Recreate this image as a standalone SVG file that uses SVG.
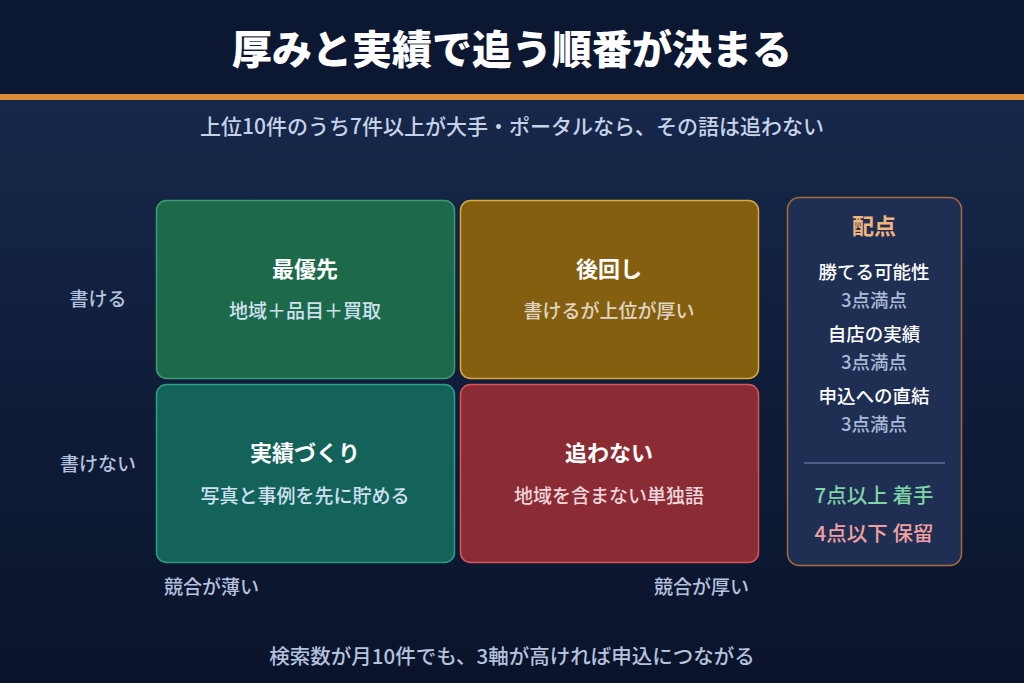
<svg xmlns="http://www.w3.org/2000/svg" width="1024" height="683" viewBox="0 0 1024 683">
<defs>
<linearGradient id="bg" x1="0" y1="0" x2="0" y2="1">
<stop offset="0" stop-color="#182b50"/>
<stop offset="1" stop-color="#0a1329"/>
</linearGradient>
</defs>
<style>
text{font-family:"Noto Sans CJK JP","Noto Sans",sans-serif;text-anchor:middle}
.ttl{font-size:40px;font-weight:900;fill:#ffffff}
.sub{font-size:21px;font-weight:500;fill:#c6d2e8}
.ax{font-size:19px;font-weight:500;fill:#b4c2de}
.ch{font-size:22px;font-weight:700;fill:#ffffff}
.cs{font-size:19px;font-weight:500;fill:#cfe0f0}
.ph{font-size:22px;font-weight:700;fill:#f2b57c}
.pl{font-size:18.5px;font-weight:500;fill:#ffffff}
.pv{font-size:18.5px;font-weight:500;fill:#a9b9d8}
.foot{font-size:20.5px;font-weight:500;fill:#b4c2de}
</style>
<rect x="0" y="0" width="1024" height="683" fill="url(#bg)"/>
<rect x="0" y="0" width="1024" height="94" fill="#0c1731"/>
<rect x="0" y="94" width="1024" height="6" fill="#e08b3c"/>
<text class="ttl" x="512" y="64">厚みと実績で追う順番が決まる</text>
<text class="sub" x="512" y="134">上位10件のうち7件以上が大手・ポータルなら、その語は追わない</text>

<text class="ax" x="98" y="306">書ける</text>
<text class="ax" x="98" y="471">書けない</text>

<g id="card-top-left">
<rect x="156.5" y="200.5" width="298" height="178" rx="10" fill="#1d6a4b" stroke="#3d9b72" stroke-width="1.5"/>
<text class="ch" x="305" y="277">最優先</text>
<text class="cs" x="305" y="318">地域＋品目＋買取</text>
</g>
<g id="card-top-right">
<rect x="460.5" y="200.5" width="298" height="178" rx="10" fill="#845f0f" stroke="#d8aa40" stroke-width="1.5"/>
<text class="ch" x="609" y="277">後回し</text>
<text class="cs" x="609" y="318" style="fill:#e0d6c6">書けるが上位が厚い</text>
</g>
<g id="card-bottom-left">
<rect x="156.5" y="384.5" width="298" height="178" rx="10" fill="#14635a" stroke="#2e9d88" stroke-width="1.5"/>
<text class="ch" x="305" y="461">実績づくり</text>
<text class="cs" x="305" y="503">写真と事例を先に貯める</text>
</g>
<g id="card-bottom-right">
<rect x="460.5" y="384.5" width="298" height="178" rx="10" fill="#8b2b34" stroke="#d5575d" stroke-width="1.5"/>
<text class="ch" x="609" y="461">追わない</text>
<text class="cs" x="609" y="503" style="fill:#ecd6dc">地域を含まない単独語</text>
</g>

<text class="ax" x="164" y="594" style="text-anchor:start">競合が薄い</text>
<text class="ax" x="749" y="594" style="text-anchor:end">競合が厚い</text>

<g id="score-panel">
<rect x="787.5" y="197.5" width="174" height="368" rx="12" fill="#1e2f53" stroke="#a96b3c" stroke-width="1.5"/>
<text class="ph" x="874" y="234">配点</text>
<text class="pl" x="874" y="279">勝てる可能性</text>
<text class="pv" x="874" y="307">3点満点</text>
<text class="pl" x="874" y="341">自店の実績</text>
<text class="pv" x="874" y="369">3点満点</text>
<text class="pl" x="874" y="403">申込への直結</text>
<text class="pv" x="874" y="431">3点満点</text>
<line x1="804" y1="463" x2="945" y2="463" stroke="#56709a" stroke-width="1.5"/>
<text x="874" y="503" style="font-size:20.5px;font-weight:500;fill:#7fd3a6">7点以上 着手</text>
<text x="874" y="541" style="font-size:20.5px;font-weight:500;fill:#f0a0a0">4点以下 保留</text>
</g>

<text class="foot" x="512" y="664">検索数が月10件でも、3軸が高ければ申込につながる</text>
</svg>
